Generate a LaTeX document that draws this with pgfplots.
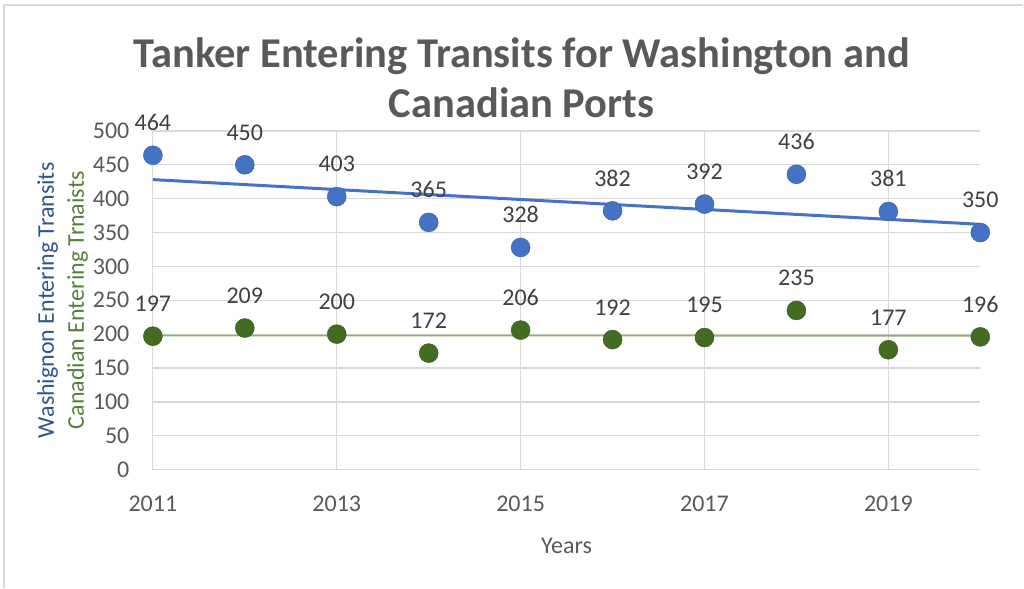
\documentclass[border=0pt]{standalone}
\usepackage{pgfplots}
\pgfplotsset{compat=1.18}
\usepackage{fontspec}
\setmainfont{Carlito}
\definecolor{bluept}{HTML}{4472C4}
\definecolor{greenpt}{HTML}{426C22}
\definecolor{greentrend}{HTML}{8DAE78}
\definecolor{txtgray}{HTML}{595959}
\definecolor{lblgray}{HTML}{404040}
\definecolor{gridgray}{HTML}{D9D9D9}
\definecolor{ylblue}{HTML}{2F5597}
\definecolor{ylgreen}{HTML}{548235}
\begin{document}
\begin{tikzpicture}
\begin{axis}[
  x=92pt, y=0.678pt,
  xmin=2011, xmax=2020, ymin=0, ymax=500,
  xtick={2011,2013,2015,2017,2019},
  ytick distance=50,
  xticklabel style={/pgf/number format/1000 sep={}, yshift=-23pt},
  /pgf/number format/assume math mode=true,
  ticklabel style={font=\fontsize{24}{28}\selectfont, text=txtgray},
  yticklabel style={xshift=-20pt},
  major tick length=0pt,
  grid=major,
  grid style={gridgray, line width=1.2pt},
  axis line style={draw=none},
  xlabel={Years},
  xlabel style={font=\fontsize{24}{28}\selectfont, text=txtgray, yshift=-19pt},
  ylabel={\textcolor{ylblue}{Washignon Entering Transits}\\\textcolor{ylgreen}{Canadian Entering Trnaists}},
  ylabel style={align=center, font=\fontsize{24}{30}\selectfont, yshift=-2pt},
  title={Tanker Entering Transits for Washington and\\Canadian Ports},
  title style={align=center, font=\bfseries\fontsize{42.5}{50}\selectfont, text=txtgray, yshift=4pt, xshift=-45pt},
  clip=false,
  nodes near coords style={font=\fontsize{24}{28}\selectfont, text=lblgray, anchor=south, yshift=21pt},
]
\coordinate (O) at (axis cs:2011,0);
% trendlines (least-squares fits)
\addplot[bluept, line width=3pt, forget plot] coordinates {(2011,428.1) (2020,362.1)};
\addplot[greentrend, line width=1.8pt, forget plot] coordinates {(2011,198.0) (2020,197.8)};
% data
\addplot[only marks, mark=*, mark size=9.5pt, mark options={fill=bluept, draw=bluept!80!black, line width=0.4pt}, nodes near coords] coordinates {
(2011,464) (2012,450) (2013,403) (2014,365) (2015,328) (2016,382) (2017,392) (2018,436) (2019,381) (2020,350)};
\addplot[only marks, mark=*, mark size=9.5pt, mark options={fill=greenpt, draw=greenpt!80!black, line width=0.4pt}, nodes near coords] coordinates {
(2011,197) (2012,209) (2013,200) (2014,172) (2015,206) (2016,192) (2017,195) (2018,235) (2019,177) (2020,196)};
\end{axis}
\path ([xshift=-153pt,yshift=-118pt]O) rectangle ([xshift=871pt,yshift=470pt]O);
\draw[gridgray, line width=1.5pt] ([xshift=-149pt,yshift=-118pt]O) -- ([xshift=-149pt,yshift=465pt]O) -- ([xshift=871pt,yshift=465pt]O);
\end{tikzpicture}
\end{document}
